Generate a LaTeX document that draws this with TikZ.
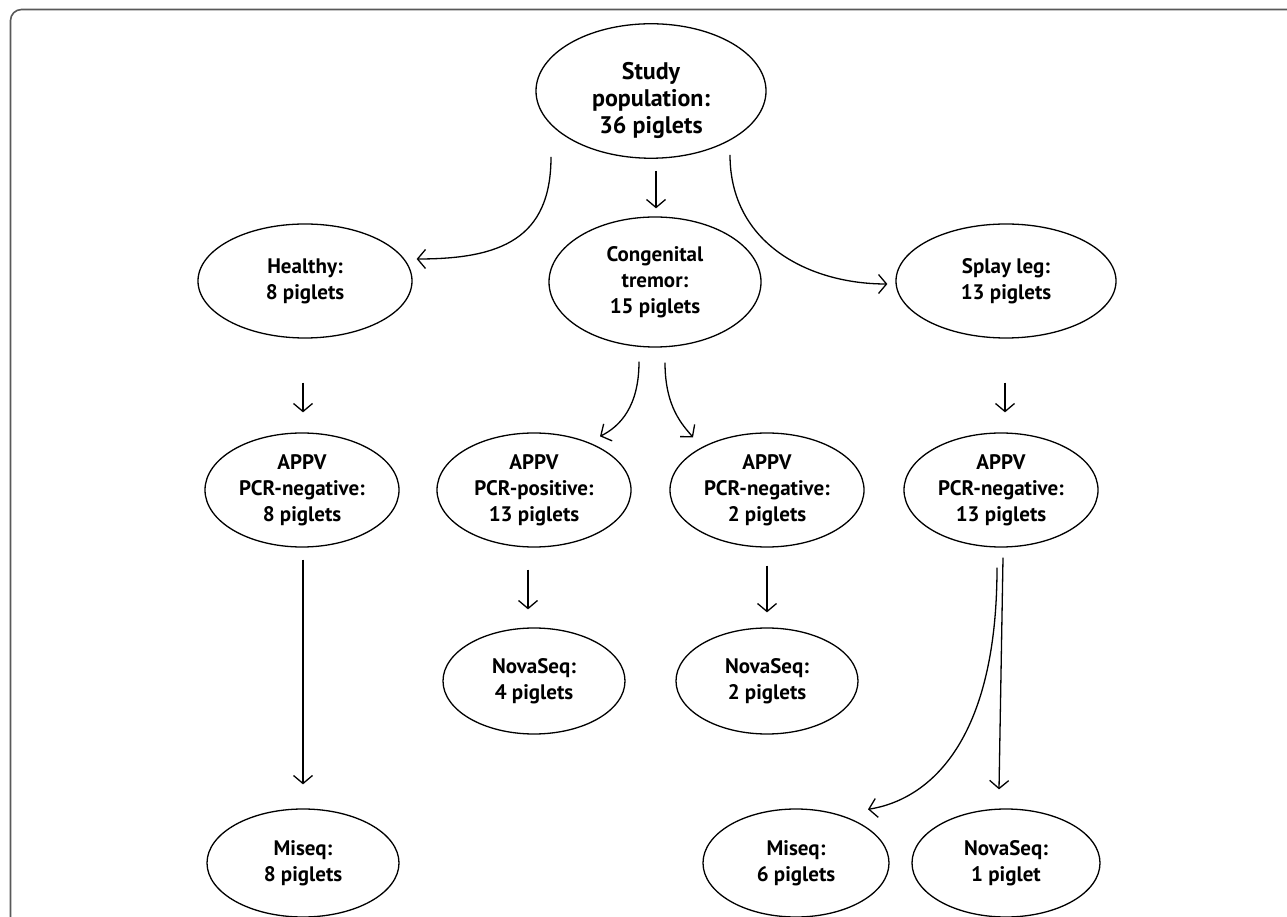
\documentclass[tikz,border=0pt]{standalone}
\usepackage{fontspec}
\setmainfont{PT Sans}
\usetikzlibrary{arrows.meta,shapes.geometric}
\tikzset{
  oval/.style={ellipse, draw, line width=1.3pt, inner sep=0pt, align=center,
    minimum width=194pt, minimum height=114pt, font=\bfseries\fontsize{21}{26}\selectfont},
  arr/.style={line width=1.3pt, -{Straight Barb[length=8pt,width=19pt]}},
}

\begin{document}
\begin{tikzpicture}[x=1pt,y=1pt]
				\useasboundingbox (0,0) rectangle (1287,916);
				\clip (0,0) rectangle (1287,916);
				\draw[black!65, line width=1.6pt, rounded corners=11pt] (10.5,-10) -- (10.5,906.5) -- (1300,906.5);
				
				\node[oval, minimum width=230pt, minimum height=128pt, font=\bfseries\fontsize{24}{27}\selectfont] (study) at (651,825) {\rule{0pt}{36pt}Study\\population:\\36 piglets};
				
				\node[oval, minimum width=214pt] (healthy) at (305,635) {Healthy:\\8 piglets};
				\node[oval, minimum width=212pt, minimum height=130pt] (tremor) at (655,634) {Congenital\\tremor:\\15 piglets};
				\node[oval, minimum width=220pt] (splay) at (1006,635) {Splay leg:\\13 piglets};
				
				\node[oval] (healthyPCR) at (302,426) {APPV\\PCR-negative:\\8 piglets};
				\node[oval] (tremorPos) at (534,426) {APPV\\PCR-positive:\\13 piglets};
				\node[oval] (tremorNeg) at (767,426) {APPV\\PCR-negative:\\2 piglets};
				\node[oval] (splayPCR) at (1001,426) {APPV\\PCR-negative:\\13 piglets};
				
				\node[oval, minimum width=182pt, minimum height=106pt] (novaPos) at (534,235) {NovaSeq:\\4 piglets};
				\node[oval, minimum width=182pt, minimum height=106pt] (novaNeg) at (767,235) {NovaSeq:\\2 piglets};
				
				\node[oval, minimum width=192pt, minimum height=108pt] (miseqH) at (303,53) {Miseq:\\8 piglets};
				\node[oval, minimum width=186pt, minimum height=108pt] (miseqS) at (796,53) {Miseq:\\6 piglets};
				\node[oval, minimum width=188pt, minimum height=108pt] (novaS) at (1006,53) {NovaSeq:\\1 piglet};
				
				\draw[arr] ([xshift=-100pt,yshift=2pt]study.south) .. controls +(0,-82) and +(84,0) .. ([xshift=4pt,yshift=22pt]healthy.east);
				\draw[arr] ([xshift=5pt,yshift=-12pt]study.south) -- ([xshift=1pt,yshift=8pt]tremor.north);
				\draw[arr] ([xshift=79pt,yshift=4pt]study.south) .. controls +(0,-89) and +(-78,0) .. ([xshift=-8pt,yshift=-3pt]splay.west);
				
				\draw[arr] ([xshift=-2pt,yshift=-44pt]healthy.south) -- ([xshift=1pt,yshift=20pt]healthyPCR.north);
				\draw[arr] ([xshift=-16pt,yshift=-14pt]tremor.south) .. controls +(0,-45) and +(20,10) .. ([xshift=66pt,yshift=-4pt]tremorPos.north);
				\draw[arr] ([xshift=10pt,yshift=-15pt]tremor.south) .. controls +(0,-45) and +(-10,12) .. ([xshift=-74pt,yshift=-5pt]tremorNeg.north);
				\draw[arr] ([xshift=-1pt,yshift=-44pt]splay.south) -- ([xshift=4pt,yshift=20pt]splayPCR.north);
				
				\draw[arr] ([xshift=-6pt,yshift=-22pt]tremorPos.south) -- ([xshift=-6pt,yshift=18pt]novaPos.north);
				\draw[arr] ([yshift=-18pt]tremorNeg.south) -- ([yshift=15pt]novaNeg.north);
				
				\draw[arr] ([xshift=1pt,yshift=-12pt]healthyPCR.south) -- ([yshift=24pt]miseqH.north);
				\draw[arr] ([xshift=-4pt,yshift=-20pt]splayPCR.south) .. controls +(0,-173) and +(62,10) .. ([xshift=72pt,yshift=-1pt]miseqS.north);
				\draw[arr] ([xshift=2pt,yshift=-10pt]splayPCR.south) -- ([xshift=-7pt,yshift=19pt]novaS.north);
			\end{tikzpicture}
\end{document}
